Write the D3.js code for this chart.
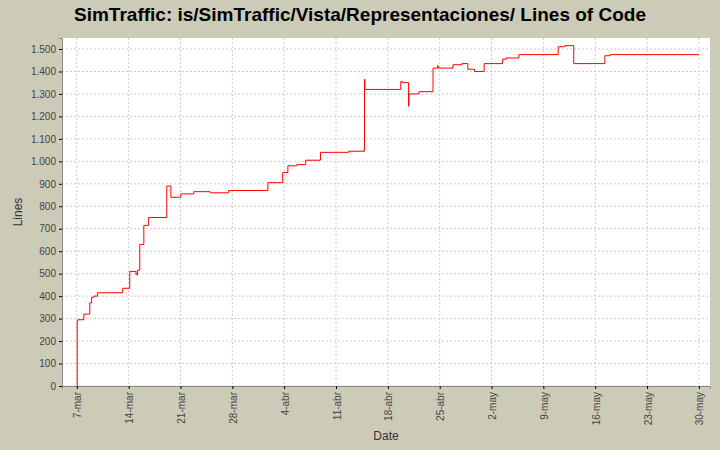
<!DOCTYPE html>
<html><head><meta charset="utf-8">
<script src="https://cdn.jsdelivr.net/npm/d3@7"></script>
<style>body{margin:0;background:#cccbb8;font-family:"Liberation Sans",Arial,sans-serif}</style>
</head><body><div id="chart"></div>
<script>
// days after 7-mar, lines of code (step after)
var days = [0, 0.05, 0.15, 0.95, 1.75, 2.0, 2.3, 2.8, 6.2, 7.15, 8.0, 8.2, 8.5, 9.05, 9.7, 12.15, 12.7, 14.05, 15.8, 18, 20.5, 25.8, 27.8, 28.5, 29.7, 30.9, 32.9, 36.7, 38.85, 38.9, 43.75, 44.0, 44.8, 44.85, 46.2, 48.1, 48.7, 48.8, 50.8, 52, 52.8, 53.7, 55, 57.5, 58, 59.7, 65, 65.9, 67.1, 71.3, 72, 84];
var lines = [0, 290, 295, 320, 370, 395, 400, 415, 435, 510, 495, 515, 630, 715, 750, 890, 840, 855, 865, 860, 870, 905, 950, 980, 985, 1005, 1040, 1045, 1365, 1320, 1355, 1350, 1245, 1300, 1310, 1415, 1425, 1415, 1430, 1435, 1410, 1400, 1435, 1455, 1460, 1475, 1510, 1515, 1435, 1470, 1475, 1475];
var tickDays = [0, 7, 14, 21, 28, 35, 42, 49, 56, 63, 70, 77, 84];
var tickLabels = ["7-mar", "14-mar", "21-mar", "28-mar", "4-abr", "11-abr", "18-abr", "25-abr", "2-may", "9-may", "16-may", "23-may", "30-may"];
var yTicks = d3.range(0, 1501, 100);

var W = 720, H = 450;
var pLeft = 62, pRight = 710, pTop = 38, pBottom = 386;

var svg = d3.select("#chart").append("svg").attr("width", W).attr("height", H);

var x = d3.scaleLinear().domain([-2, 85.5]).range([pLeft, pRight]);
var y = d3.scaleLinear().domain([0, (pBottom - pTop) / (pBottom - 49) * 1500]).range([pBottom, pTop]);

svg.append("text").attr("x", W / 2).attr("y", 21).attr("text-anchor", "middle")
	.attr("font-size", 19).attr("font-weight", "bold").text("SimTraffic: is/SimTraffic/Vista/Representaciones/ Lines of Code");

svg.append("rect").attr("x", pLeft).attr("y", pTop).attr("width", pRight - pLeft).attr("height", pBottom - pTop).attr("fill", "white");

// grid
svg.selectAll("line.gy").data(yTicks).enter().append("line")
	.attr("x1", pLeft).attr("x2", pRight).attr("y1", d => y(d)).attr("y2", d => y(d))
	.attr("stroke", "#ccc").attr("stroke-dasharray", "2,2");
svg.selectAll("line.gx").data(tickDays).enter().append("line")
	.attr("y1", pTop).attr("y2", pBottom).attr("x1", d => x(d)).attr("x2", d => x(d))
	.attr("stroke", "#ccc").attr("stroke-dasharray", "2,2");

// axes
var fmt = d3.formatLocale({decimal: ",", thousands: ".", grouping: [3], currency: ["", ""]}).format(",d");
var ya = svg.append("g").attr("transform", "translate(" + pLeft + ",0)")
	.call(d3.axisLeft(y).tickValues(yTicks).tickFormat(fmt).tickSize(3));
ya.selectAll("text").attr("font-size", 10).attr("fill", "#444");
ya.select(".domain").attr("stroke", "#888");
var xa = svg.append("g").attr("transform", "translate(0," + pBottom + ")")
	.call(d3.axisBottom(x).tickValues(tickDays).tickFormat((d, i) => tickLabels[i]).tickSize(3));
xa.selectAll(".tick text").attr("font-size", 10).attr("fill", "#444")
	.attr("text-anchor", "end").attr("x", 0).attr("y", 0).attr("dy", 0)
	.attr("transform", "translate(4,6) rotate(-90)");
xa.select(".domain").attr("stroke", "#888");

svg.append("text").attr("x", (pLeft + pRight) / 2).attr("y", 440).attr("text-anchor", "middle").attr("font-size", 12).attr("fill", "#333").text("Date");
svg.append("text").attr("transform", "translate(22," + (pTop + pBottom) / 2 + ") rotate(-90)").attr("text-anchor", "middle").attr("font-size", 12).attr("fill", "#333").text("Lines");

var line = d3.line().x(d => x(d[0])).y(d => y(d[1])).curve(d3.curveStepAfter);
svg.append("path").datum(days.map((d, i) => [d, lines[i]])).attr("d", line)
	.attr("fill", "none").attr("stroke", "red").attr("stroke-width", 1);
</script></body></html>
